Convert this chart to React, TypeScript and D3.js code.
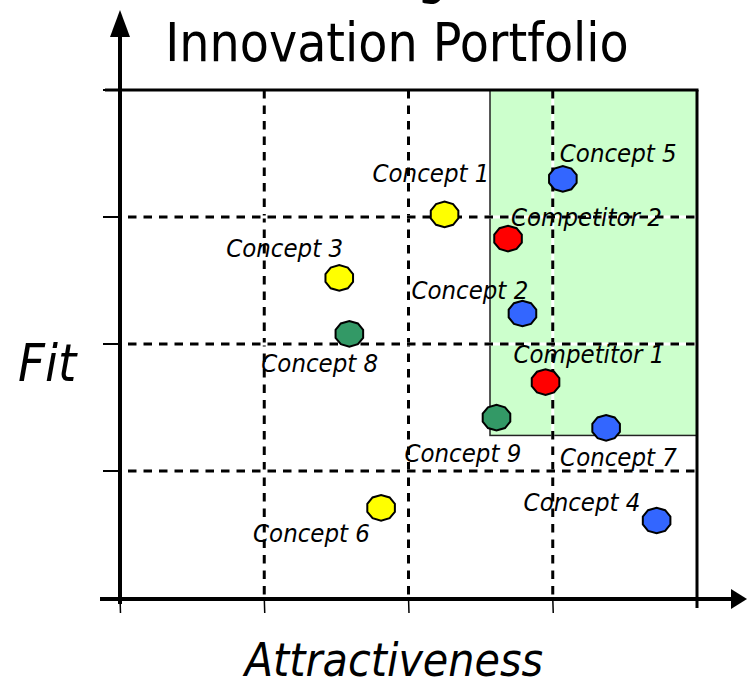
import * as d3 from 'd3';

// portfolio items
const names = [
  'Concept 1', 'Concept 2', 'Concept 3', 'Concept 4', 'Concept 5', 'Concept 6',
  'Concept 7', 'Concept 8', 'Concept 9', 'Competitor 1', 'Competitor 2',
];
const attractiveness = [2.25, 2.79, 1.52, 3.72, 3.07, 1.81, 3.37, 1.59, 2.61, 2.95, 2.69];
const fit = [3.02, 2.24, 2.52, 0.61, 3.3, 0.71, 1.34, 2.08, 1.42, 1.7, 2.83];
const kinds = ['idea', 'active', 'idea', 'active', 'active', 'idea', 'active', 'parked', 'parked', 'competitor', 'competitor'];

const kindNames = ['idea', 'active', 'parked', 'competitor'];
const xTicks = [0, 1, 2, 3, 4];
const yTicks = [0, 1, 2, 3, 4];
// target zone (attractiveness range, fit range)
const zoneX = [2.565, 4];
const zoneY = [1.28, 4];

// label placement relative to the marker, in px
const labelOffset: Record<string, [number, number]> = {
  'Concept 1': [-72, -32],
  'Concept 2': [-111, -15],
  'Concept 3': [-113, -21],
  'Concept 4': [-133, -10],
  'Concept 5': [-3, -17],
  'Concept 6': [-128, 34],
  'Concept 7': [-46, 38],
  'Concept 8': [-88, 38],
  'Concept 9': [-92, 44],
  'Competitor 1': [-32, -19],
  'Competitor 2': [3, -13],
};

const W = 747;
const H = 678;
const font = "'DejaVu Sans Condensed', 'DejaVu Sans', sans-serif";

export default function App() {
  const x = d3.scaleLinear().domain([0, 4]).range([120, 697]);
  const y = d3.scaleLinear().domain([0, 4]).range([598, 90]);
  const color = d3
    .scaleOrdinal<string, string>()
    .domain(kindNames)
    .range(['#ffff00', '#3366ff', '#339966', '#ff0000']);

  // slightly squashed 10-gon marker
  const marker = d3.line().curve(d3.curveLinearClosed)(
    d3.range(10).map((i) => {
      const a = (Math.PI * 2 * i) / 10 + Math.PI / 10;
      return [14.5 * Math.cos(a), 12.8 * Math.sin(a)] as [number, number];
    })
  )!;

  const x0 = x(0);
  const x1 = x(4);
  const y0 = y(0);
  const y1 = y(4);
  const dash = '8.5 7';

  return (
    <svg width={W} height={H} style={{ position: 'absolute', left: 0, top: 0, background: '#fff' }}>
      {/* title (first line is cut off at the top edge) */}
      <text x={397} y={-7} textAnchor="middle" fontFamily={font} fontSize={53}>
        Building the
      </text>
      <text x={397} y={61} textAnchor="middle" fontFamily={font} fontSize={53}>
        Innovation Portfolio
      </text>

      {/* target zone */}
      <rect
        x={x(zoneX[0])}
        y={y(zoneY[1])}
        width={x(zoneX[1]) - x(zoneX[0])}
        height={y(zoneY[0]) - y(zoneY[1])}
        fill="#ccffcc"
        stroke="#222"
        strokeWidth={1.5}
      />

      {/* grid */}
      {xTicks.slice(1, -1).map((t) => (
        <g key={'vx' + t}>
          <line x1={x(t)} x2={x(t)} y1={y1} y2={y0} stroke="#fff" strokeWidth={3} />
          <line x1={x(t)} x2={x(t)} y1={y1} y2={y0} stroke="#000" strokeWidth={3} strokeDasharray={dash} />
        </g>
      ))}
      {yTicks.slice(1, -1).map((t) => (
        <g key={'hy' + t}>
          <line x1={x0 + 8} x2={x1} y1={y(t)} y2={y(t)} stroke="#fff" strokeWidth={3} />
          <line x1={x0 + 8} x2={x1} y1={y(t)} y2={y(t)} stroke="#000" strokeWidth={3} strokeDasharray={dash} />
        </g>
      ))}

      {/* frame */}
      <line x1={x0 - 15} x2={x1 + 1.5} y1={y1} y2={y1} stroke="#000" strokeWidth={3} />
      <line x1={x1} x2={x1} y1={y1} y2={y0 + 10} stroke="#000" strokeWidth={3} />

      {/* ticks */}
      {yTicks.map((t) => (
        <line key={'ty' + t} x1={x0 - 17} x2={x0} y1={y(t)} y2={y(t)} stroke="#000" strokeWidth={2} />
      ))}
      {xTicks.slice(0, -1).map((t) => (
        <line key={'tx' + t} x1={x(t)} x2={x(t) + 0.5} y1={y0} y2={y0 + 15} stroke="#000" strokeWidth={1.5} />
      ))}

      {/* axes with arrows */}
      <line x1={x0} x2={x0} y1={y0 + 6} y2={32} stroke="#000" strokeWidth={4} />
      <path d={`M${x0},10 L${x0 - 10},37 L${x0 + 10},37 Z`} fill="#000" />
      <line x1={x0 - 20} x2={735} y1={y0 + 1} y2={y0 + 1} stroke="#000" strokeWidth={4} />
      <path d={`M747,${y0 + 1} L731,${y0 - 9} L731,${y0 + 11} Z`} fill="#000" />

      {/* axis titles */}
      <text x={18} y={381} fontFamily={font} fontStyle="italic" fontSize={52}>
        Fit
      </text>
      <text x={394} y={676} textAnchor="middle" fontFamily={font} fontStyle="italic" fontSize={46}>
        Attractiveness
      </text>

      {/* items */}
      {names.map((n, i) => {
        const px = x(attractiveness[i]);
        const py = y(fit[i]);
        const [dx, dy] = labelOffset[n];
        return (
          <g key={n}>
            <text x={px + dx} y={py + dy} fontFamily={font} fontStyle="italic" fontSize={25.5}>
              {n}
            </text>
            <path d={marker} transform={`translate(${px},${py})`} fill={color(kinds[i])} stroke="#000" strokeWidth={2} />
          </g>
        );
      })}
    </svg>
  );
}
